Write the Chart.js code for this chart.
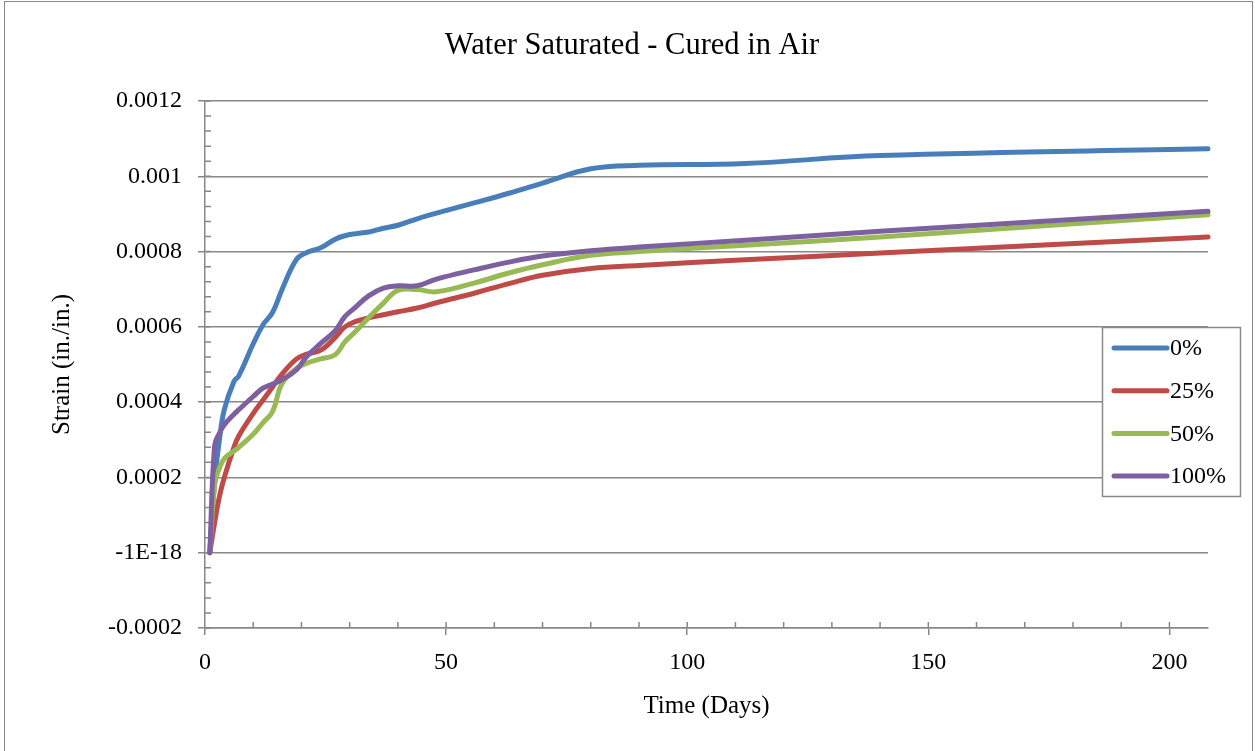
<!DOCTYPE html>
<html>
<head>
<meta charset="utf-8">
<title>Water Saturated - Cured in Air</title>
<script src="https://cdn.jsdelivr.net/npm/chart.js@4.4.1/dist/chart.umd.min.js"></script>
<style>
  html, body { margin: 0; padding: 0; background: #fff; }
  #wrap { width: 1255px; height: 751px; }
</style>
</head>
<body>
<div id="wrap"><canvas id="chart" width="1255" height="751"></canvas></div>
<script>
// time in days
const days = [1, 2, 3, 4, 6, 7, 10, 12, 14, 16, 19, 21, 24, 27, 29, 31, 34, 37, 40, 44, 48, 56, 63, 70, 80, 90, 112, 140, 208];

const seriesNames = ["0%", "25%", "50%", "100%"];
const seriesColors = ["#4A7EBB", "#BE4B48", "#98B954", "#7D60A0"];

const strain0 = [0, 0.00019, 0.0003, 0.00038, 0.000455, 0.00047, 0.000555, 0.000605, 0.000638, 0.0007, 0.00078, 0.000797, 0.00081, 0.000833, 0.000842, 0.000847, 0.000852, 0.000862, 0.00087, 0.000887, 0.000902, 0.00093, 0.000955, 0.000982, 0.00102, 0.001029, 0.001034, 0.001055, 0.001073];
const strain25 = [0, 0.00008, 0.00015, 0.0002, 0.00028, 0.00031, 0.00037, 0.000405, 0.00044, 0.000475, 0.000515, 0.000527, 0.000538, 0.000572, 0.0006, 0.000613, 0.000624, 0.000632, 0.00064, 0.00065, 0.000664, 0.00069, 0.000715, 0.000737, 0.000755, 0.000763, 0.000778, 0.000796, 0.000839];
const strain50 = [0, 0.00018, 0.000225, 0.00025, 0.00027, 0.00028, 0.000315, 0.000345, 0.000375, 0.00045, 0.00049, 0.000503, 0.000515, 0.000526, 0.00056, 0.000585, 0.000625, 0.000663, 0.000697, 0.000699, 0.000693, 0.000717, 0.000743, 0.000765, 0.00079, 0.0008, 0.000817, 0.000839, 0.000898];
const strain100 = [0, 0.000285, 0.000318, 0.00034, 0.000368, 0.00038, 0.000415, 0.000437, 0.000448, 0.00046, 0.000486, 0.00052, 0.000556, 0.00059, 0.000627, 0.00065, 0.000683, 0.000703, 0.000709, 0.000709, 0.000727, 0.000752, 0.000772, 0.000788, 0.000802, 0.000812, 0.00083, 0.000854, 0.000907];

const xTicks = [0, 50, 100, 150, 200];
const yTickLabels = ["-0.0002", "-1E-18", "0.0002", "0.0004", "0.0006", "0.0008", "0.001", "0.0012"];

const chartTitle = "Water Saturated - Cured in Air";
const serif = '"Liberation Serif", "DejaVu Serif", serif';
const gridGrey = "#888888";

const allStrain = [strain0, strain25, strain50, strain100];

const datasets = seriesNames.map((name, i) => ({
  label: name,
  data: days.map((d, k) => ({ x: d, y: allStrain[i][k] })),
  borderColor: seriesColors[i],
  backgroundColor: seriesColors[i],
  borderWidth: 5,
  pointRadius: 0,
  tension: 0.4,
  borderCapStyle: "round",
  borderJoinStyle: "round",
  clip: false,
  order: seriesNames.length - i
}));

// white background, outer frame and the title
const framePlugin = {
  id: "frame",
  beforeDraw(chart) {
    const ctx = chart.ctx;
    ctx.save();
    ctx.fillStyle = "#fff";
    ctx.fillRect(0, 0, chart.width, chart.height);
    ctx.strokeStyle = "#8a8a8a";
    ctx.lineWidth = 1;
    ctx.strokeRect(4.5, 1.5, chart.width - 7, chart.height + 10);
    ctx.font = "30.5px " + serif;
    ctx.fillStyle = "#000";
    ctx.textAlign = "center";
    ctx.textBaseline = "middle";
    ctx.fillText(chartTitle, 632, 46);
    ctx.restore();
  }
};

// small inner tick marks like the excel chart
const minorTicks = {
  id: "minorTicks",
  beforeDatasetsDraw(chart) {
    const { ctx, chartArea, scales } = chart;
    ctx.save();
    ctx.strokeStyle = gridGrey;
    ctx.lineWidth = 1.5;
    ctx.beginPath();
    for (let v = 10; v <= 200; v += 10) {
      const px = scales.x.getPixelForValue(v);
      ctx.moveTo(px, chartArea.bottom);
      ctx.lineTo(px, chartArea.bottom - 6);
    }
    for (let k = 0; k <= 35; k++) {
      const py = scales.y.getPixelForValue(-0.0002 + k * 0.00004);
      ctx.moveTo(chartArea.left, py);
      ctx.lineTo(chartArea.left + 6, py);
    }
    ctx.stroke();
    ctx.restore();
  }
};

// legend box sitting over the plot, right side
const boxLegend = {
  id: "boxLegend",
  afterDraw(chart) {
    const ctx = chart.ctx;
    const bx = 1102, by = 327, bw = 138, bh = 169;
    ctx.save();
    ctx.fillStyle = "#fff";
    ctx.fillRect(bx, by, bw, bh);
    ctx.strokeStyle = "#8a8a8a";
    ctx.lineWidth = 1.5;
    ctx.strokeRect(bx + 0.5, by + 0.5, bw, bh);
    ctx.font = "24px " + serif;
    ctx.textBaseline = "middle";
    ctx.fillStyle = "#000";
    chart.data.datasets.forEach((ds, i) => {
      const y = by + 21 + i * 42.7;
      ctx.strokeStyle = ds.borderColor;
      ctx.lineWidth = 5;
      ctx.lineCap = "round";
      ctx.beginPath();
      ctx.moveTo(bx + 12, y);
      ctx.lineTo(bx + 65, y);
      ctx.stroke();
      ctx.fillText(ds.label, bx + 68, y + 1);
    });
    ctx.restore();
  }
};

new Chart(document.getElementById("chart"), {
  type: "line",
  data: { datasets },
  options: {
    responsive: false,
    animation: false,
    layout: { padding: { left: 5, right: 47, top: 101, bottom: 0 } },
    plugins: {
      legend: { display: false },
      tooltip: { enabled: false },
      title: { display: false }
    },
    scales: {
      x: {
        type: "linear",
        min: 0,
        max: 208,
        afterBuildTicks(scale) {
          scale.ticks = xTicks.map(v => ({ value: v }));
        },
        afterFit(scale) { scale.height = 123; },
        ticks: {
          color: "#000",
          padding: 13,
          maxRotation: 0,
          autoSkip: false,
          font: { family: serif, size: 24 }
        },
        grid: { drawOnChartArea: false, drawTicks: true, tickLength: 7, color: gridGrey, lineWidth: 1.5 },
        border: { color: gridGrey, width: 1.5 },
        title: {
          display: true,
          text: "Time (Days)",
          color: "#000",
          font: { family: serif, size: 25 },
          padding: { top: 0, bottom: 30 }
        }
      },
      y: {
        min: -0.0002,
        max: 0.0012,
        afterFit(scale) { scale.width = 200; },
        ticks: {
          stepSize: 0.0002,
          color: "#000",
          padding: 16,
          font: { family: serif, size: 24 },
          callback: (value, index) => yTickLabels[index]
        },
        grid: { color: gridGrey, lineWidth: 1.5, tickLength: 7 },
        border: { color: gridGrey, width: 1.5 },
        title: {
          display: true,
          text: "Strain (in./in.)",
          color: "#000",
          font: { family: serif, size: 25 },
          padding: { top: 42, bottom: 0 }
        }
      }
    }
  },
  plugins: [framePlugin, minorTicks, boxLegend]
});
</script>
</body>
</html>
